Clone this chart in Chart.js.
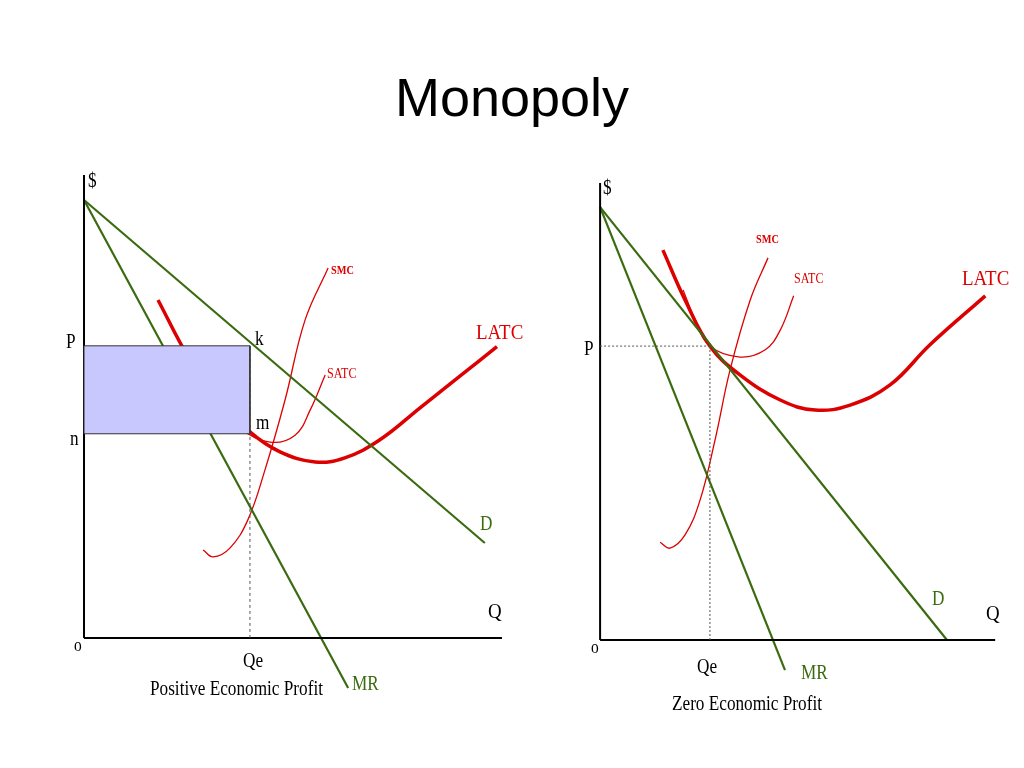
<!DOCTYPE html>
<html><head><meta charset="utf-8">
<script src="https://cdn.jsdelivr.net/npm/chart.js@4"></script>
<style>
body{margin:0;width:1024px;height:768px;background:#fff;position:relative;overflow:hidden;font-family:"Liberation Serif","DejaVu Serif",serif}
canvas{position:absolute;top:0;left:0}
.t{position:absolute;white-space:nowrap;line-height:1;transform:scaleX(0.86);transform-origin:left top}
#title{position:absolute;top:66px;left:0;width:1024px;text-align:center;font-family:"Liberation Sans",Arial,sans-serif;font-size:54px}
</style></head><body>
<div id="title">Monopoly</div>
<div style="position:absolute;left:0;top:150px;width:512px;height:618px"><canvas id="c1"></canvas></div>
<div style="position:absolute;left:512px;top:150px;width:512px;height:618px"><canvas id="c2"></canvas></div>
<div id="labels"></div>
<script>
// ---------- Left panel: Positive Economic Profit ----------
const L_axisY=[{x:0,y:100},{x:0,y:0}];
const L_axisX=[{x:0,y:0},{x:100,y:0}];
const L_D=[{x:0,y:94.6},{x:95.9,y:20.5}];
const L_MR=[{x:0,y:94.6},{x:63.2,y:-10.8}];
const L_profit=[{x:0,y:63.1},{x:39.7,y:63.1},{x:39.7,y:44.1},{x:0,y:44.1},{x:0,y:63.1}];
const L_Qe=[{x:39.7,y:0},{x:39.7,y:63.1}];
const L_LATC=[{x:17.7,y:73.0},{x:25.4,y:60.0},{x:32.5,y:51.4},{x:39.7,y:44.5},{x:46.9,y:40.2},{x:55.3,y:38.0},{x:62.4,y:38.9},{x:70.8,y:42.8},{x:80.4,y:49.7},{x:90.0,y:56.6},{x:98.8,y:62.9}];
const L_SATC=[{x:31.3,y:62.9},{x:33.0,y:51.4},{x:37.3,y:45.4},{x:44.5,y:42.3},{x:50.5,y:43.8},{x:54.1,y:49.2},{x:57.7,y:56.8}];
const L_SMC=[{x:28.5,y:19.0},{x:30.9,y:17.5},{x:34.9,y:19.4},{x:39.2,y:25.5},{x:43.3,y:36.3},{x:48.1,y:51.4},{x:52.9,y:68.7},{x:58.4,y:79.9}];
// ---------- Right panel: Zero Economic Profit ----------
const R_axisY=[{x:0,y:100},{x:0,y:0}];
const R_axisX=[{x:0,y:0},{x:100,y:0}];
const R_D=[{x:0,y:94.7},{x:87.8,y:0}];
const R_MR=[{x:0,y:94.7},{x:46.8,y:-6.6}];
const R_P=[{x:0,y:64.3},{x:27.8,y:64.3}];
const R_Qe=[{x:27.8,y:0},{x:27.8,y:64.3}];
const R_LATC=[{x:15.9,y:85.3},{x:21.5,y:74.4},{x:27.8,y:64.3},{x:35.4,y:58.0},{x:45.6,y:52.5},{x:54.4,y:50.3},{x:63.3,y:51.4},{x:73.4,y:55.8},{x:83.5,y:64.6},{x:97.5,y:75.3}];
const R_SATC=[{x:21.0,y:76.6},{x:24.1,y:70.0},{x:27.8,y:64.3},{x:35.4,y:61.9},{x:41.8,y:63.5},{x:45.6,y:67.8},{x:49.0,y:75.3}];
const R_SMC=[{x:15.2,y:21.4},{x:17.7,y:20.1},{x:21.5,y:23.0},{x:25.3,y:30.6},{x:29.1,y:43.8},{x:32.9,y:59.1},{x:38.0,y:74.4},{x:42.5,y:83.6}];

const GREEN='#3a6b10', RED='#dd0000';
function ds(data,color,width,extra){return Object.assign({data,borderColor:color,borderWidth:width,showLine:true,pointRadius:0,tension:0,fill:false},extra||{});}
const smooth={cubicInterpolationMode:'monotone'};
function make(id,sets,xr,yr){
  new Chart(document.getElementById(id),{type:'scatter',data:{datasets:sets},
    options:{responsive:true,maintainAspectRatio:false,animation:false,layout:{padding:0},
      plugins:{legend:{display:false},tooltip:{enabled:false}},
      scales:{x:{type:'linear',display:false,min:xr[0],max:xr[1]},y:{type:'linear',display:false,min:yr[0],max:yr[1]}}}});
}
make('c1',[
  ds(L_profit,'#333',1,{fill:'shape',backgroundColor:'#c8c8ff'}),
  ds(L_Qe,'#555',1,{borderDash:[3,3]}),
  ds(L_axisY,'#000',2),ds(L_axisX,'#000',2),
  ds(L_D,GREEN,2.2),ds(L_MR,GREEN,2.2),
  ds(L_SMC,RED,1.3,{tension:0.4}),ds(L_SATC,RED,1.3,{tension:0.4}),
  ds(L_LATC,RED,3.5,{tension:0.4})
],[-20.1,102.4],[-28.1,105.4]);
make('c2',[
  ds(R_P,'#555',1,{borderDash:[2,2]}),ds(R_Qe,'#555',1,{borderDash:[2,2]}),
  ds(R_axisY,'#000',2),ds(R_axisX,'#000',2),
  ds(R_D,GREEN,2.2),ds(R_MR,GREEN,2.2),
  ds(R_SMC,RED,1.3,{tension:0.4}),ds(R_SATC,RED,1.3,{tension:0.4}),
  ds(R_LATC,RED,3.5,{tension:0.4})
],[-22.3,107.3],[-28.0,107.2]);

const labels=[
 ['$',88,170,20,'#000'],['P',66,331,20,'#000'],['n',70,428,20,'#000'],['o',74,636,18,'#000'],
 ['k',255,328,20,'#000'],['m',256,412,20,'#000'],['Qe',243,650,20,'#000'],
 ['Positive Economic Profit',150,678,20,'#000'],['MR',352,673,20,GREEN],['D',480,513,20,GREEN],
 ['LATC',476,321,22,RED],['SATC',327,367,14,RED],['SMC',331,264,12,RED,1],['Q',488,600,22,'#000'],
 ['$',603,177,20,'#000'],['P',584,338,20,'#000'],['o',591,638,18,'#000'],['Qe',697,656,20,'#000'],
 ['Zero Economic Profit',672,693,20,'#000'],['MR',801,662,20,GREEN],['D',932,588,20,GREEN],
 ['Q',986,602,22,'#000'],['LATC',962,267,22,RED],['SATC',794,272,14,RED],['SMC',756,233,12,RED,1]
];
const box=document.getElementById('labels');
labels.forEach(([s,x,y,f,c,b])=>{const d=document.createElement('div');d.className='t';d.textContent=s;
 d.style.left=x+'px';d.style.top=y+'px';d.style.fontSize=f+'px';d.style.color=c;
 if(b)d.style.fontWeight='bold';box.appendChild(d);});
</script>
</body></html>
